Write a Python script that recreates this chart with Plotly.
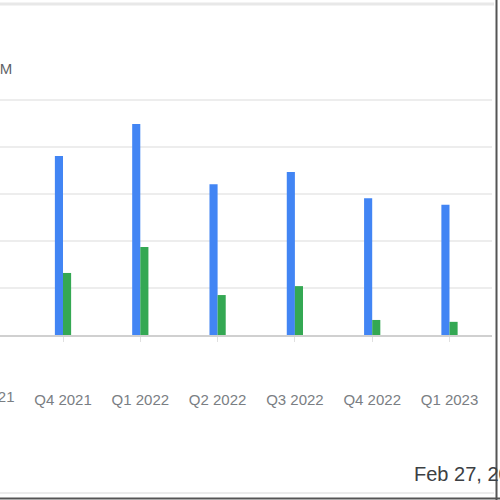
import plotly.graph_objects as go

# Quarterly values (USD M)
quarters = ["Q3 2021", "Q4 2021", "Q1 2022", "Q2 2022", "Q3 2022", "Q4 2022", "Q1 2023"]
revenue = [None, 381, 449, 321, 347, 291, 277]
net_income = [None, 132, 187, 85, 104, 32, 28]
date_label = "Feb 27, 2023"
unit_label = "USD M"

W, H = 500, 500
ML, MR, MT, MB = 0, 8, 80, 165
PW, PH = W - ML - MR, H - MT - MB


def px(x):
    return (x - ML) / PW


def py(y):
    return (H - MB - y) / PH


fig = go.Figure()
fig.add_trace(go.Bar(x=quarters, y=revenue, name="Revenue",
                     marker=dict(color="#4285F4", line=dict(width=0))))
fig.add_trace(go.Bar(x=quarters, y=net_income, name="Net income",
                     marker=dict(color="#34A853", line=dict(width=0))))

shapes = [
    dict(type="line", xref="paper", yref="paper", x0=px(0), x1=px(494), y0=py(4), y1=py(4),
         line=dict(color="#e8e8e8", width=3)),
    dict(type="line", xref="paper", yref="paper", x0=px(0), x1=px(494), y0=py(493), y1=py(493),
         line=dict(color="#ececec", width=2)),
    dict(type="line", xref="paper", yref="paper", x0=px(496.5), x1=px(496.5), y0=py(0), y1=py(500),
         line=dict(color="#555555", width=2)),
    dict(type="line", xref="paper", yref="paper", x0=px(0), x1=px(500), y0=py(498.5), y1=py(498.5),
         line=dict(color="#555555", width=2)),
]

annotations = [
    dict(x=px(14), y=py(69), xref="paper", yref="paper", text=unit_label,
         xanchor="right", yanchor="middle", showarrow=False,
         font=dict(family="Arial", size=15, color="#5f6368")),
    dict(x=px(-14), y=py(396), xref="paper", yref="paper", text=quarters[0],
         xanchor="center", yanchor="middle", showarrow=False,
         font=dict(family="Arial", size=15, color="#7a7e83")),
    dict(x=px(412), y=py(474), xref="paper", yref="paper", text=date_label,
         xanchor="left", yanchor="middle", showarrow=False,
         font=dict(family="Arial", size=20, color="#3c4043")),
]

step = 77.3
first_tick = 63
x0 = 1 - (first_tick - ML) / step

fig.update_layout(
    width=W, height=H,
    margin=dict(l=ML, r=MR, t=MT, b=MB),
    plot_bgcolor="white", paper_bgcolor="white",
    showlegend=False,
    barmode="group", bargap=0.79, bargroupgap=0,
    xaxis=dict(type="category", range=[x0, x0 + PW / step],
               showgrid=False, showline=True, linecolor="#d0d0d0", linewidth=1.5,
               ticks="outside", ticklen=5, tickcolor="#e0e0e0",
               ticklabelstandoff=45,
               tickfont=dict(family="Arial", size=15, color="#7a7e83")),
    yaxis=dict(range=[0, (H - MB - MT) / 0.47], dtick=100, showticklabels=False,
               showgrid=True, gridcolor="#ededed", gridwidth=1.5, zeroline=False),
    shapes=shapes,
    annotations=annotations,
)

fig.write_html("out.html", config={"displayModeBar": False},
               post_script="document.body.style.margin='0';")
